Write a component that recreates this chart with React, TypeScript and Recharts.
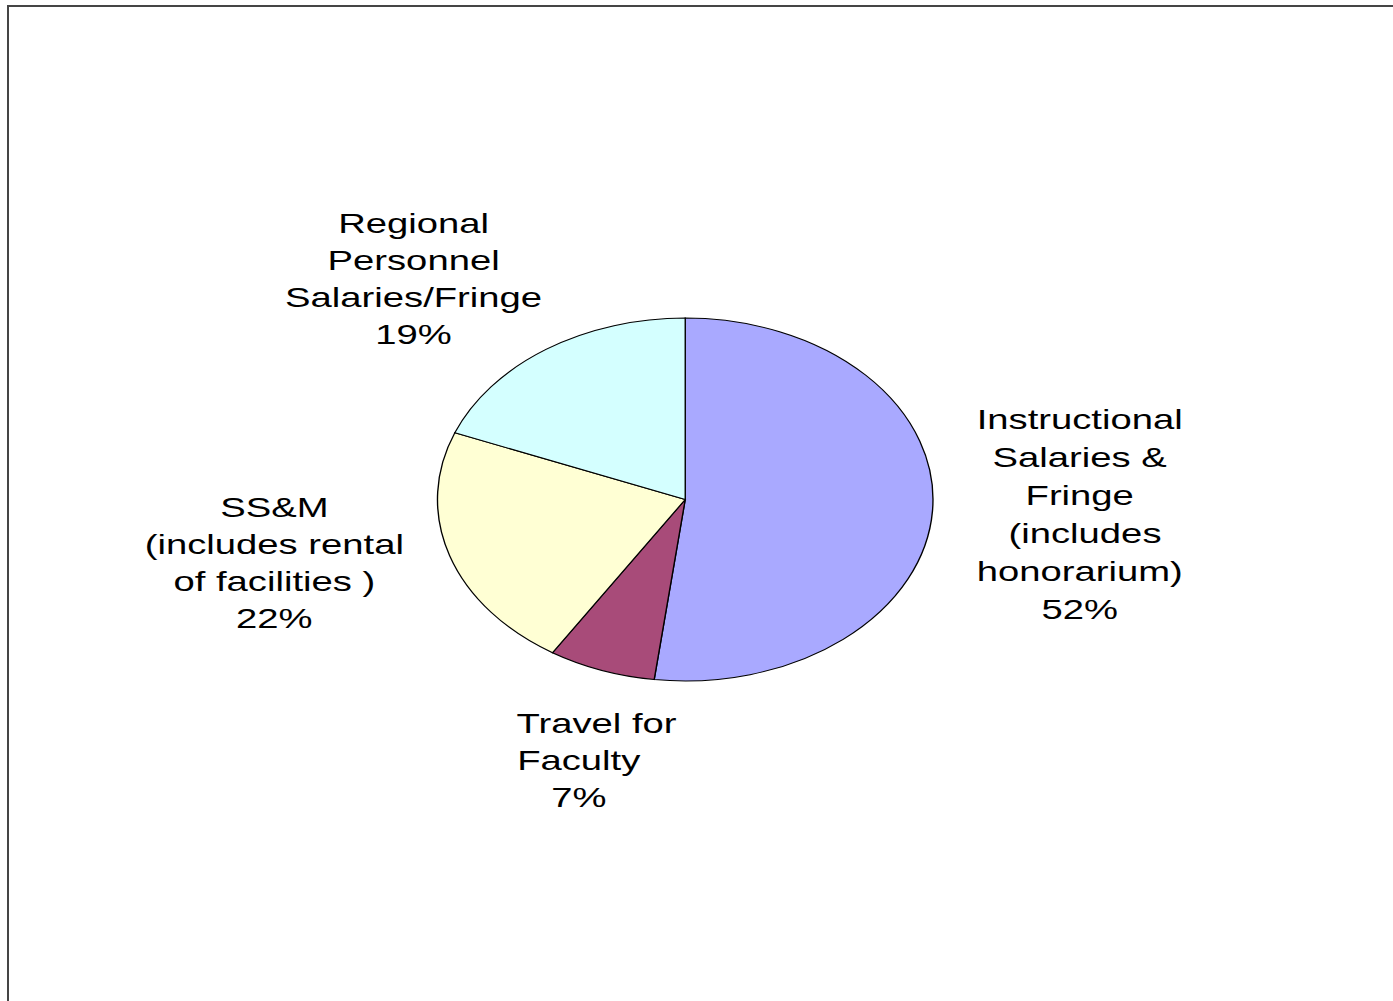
import { PieChart, Pie, Cell } from 'recharts'

// slice order follows the original: clockwise from 12 o'clock
const categories = [
  'Instructional Salaries & Fringe (includes honorarium)',
  'Travel for Faculty',
  'SS&M (includes rental of facilities )',
  'Regional Personnel Salaries/Fringe',
]
const shares = [52, 7, 22, 19]
const labelLines = [
  ['Instructional', 'Salaries &', 'Fringe', ' (includes', 'honorarium)'],
  ['Travel for', 'Faculty'],
  ['SS&M', '(includes rental', 'of facilities )'],
  ['Regional', 'Personnel', 'Salaries/Fringe'],
]
const colors = ['#A9A9FF', '#A84B79', '#FFFFD4', '#D4FFFF']

// the source image is stretched sideways, so draw round and scale the whole thing
const STRETCH = 1.365
const W = 1020
const H = 1001
const PIE_CX = 502
const PIE_CY = 499.5
const PIE_R = 181.5

// label block placement relative to pie centre (unstretched px)
const labelLayout = [
  { dx: 289, dy: -70.5, lh: 38, firstShift: 0 },
  { dx: -78, dy: 233.5, lh: 37, firstShift: 13 },
  { dx: -301, dy: 17.5, lh: 37, firstShift: 0 },
  { dx: -199, dy: -266.5, lh: 37, firstShift: 0 },
]

const data = categories.map((name, i) => ({ name, value: shares[i] }))

function renderLabel(props: any) {
  const { index, value } = props
  const cx = props.cx ?? PIE_CX
  const cy = props.cy ?? PIE_CY
  const lay = labelLayout[index]
  const lines = [...labelLines[index], `${value}%`]
  return (
    <text
      key={`lbl-${index}`}
      textAnchor="middle"
      fontFamily="'Liberation Sans', Arial, sans-serif"
      fontSize={28}
      fill="#000"
    >
      {lines.map((t, i) => (
        <tspan
          key={i}
          x={cx + lay.dx + (i === 0 ? lay.firstShift : 0)}
          y={cy + lay.dy + i * lay.lh}
          style={{ whiteSpace: 'pre' }}
        >
          {t}
        </tspan>
      ))}
    </text>
  )
}

export default function App() {
  return (
    <div style={{ position: 'absolute', left: 0, top: 0, width: 1393, height: 1001, overflow: 'hidden', background: '#fff' }}>
      <div
        style={{
          position: 'absolute',
          left: 7,
          top: 5,
          width: 1386,
          height: 996,
          borderTop: '2px solid #454545',
          borderLeft: '2px solid #454545',
          boxSizing: 'border-box',
        }}
      />
      <div
        style={{
          position: 'absolute',
          left: 0,
          top: 0,
          width: W,
          height: H,
          transform: `scaleX(${STRETCH})`,
          transformOrigin: '0 0',
        }}
      >
        <PieChart width={W} height={H} margin={{ top: 0, right: 0, bottom: 0, left: 0 }}>
          <Pie
            data={data}
            dataKey="value"
            nameKey="name"
            cx={PIE_CX}
            cy={PIE_CY}
            outerRadius={PIE_R}
            startAngle={90}
            endAngle={-270}
            stroke="#000"
            strokeWidth={1}
            label={renderLabel}
            labelLine={false}
            isAnimationActive={false}
          >
            {data.map((d, i) => (
              <Cell key={d.name} fill={colors[i]} />
            ))}
          </Pie>
        </PieChart>
      </div>
    </div>
  )
}
